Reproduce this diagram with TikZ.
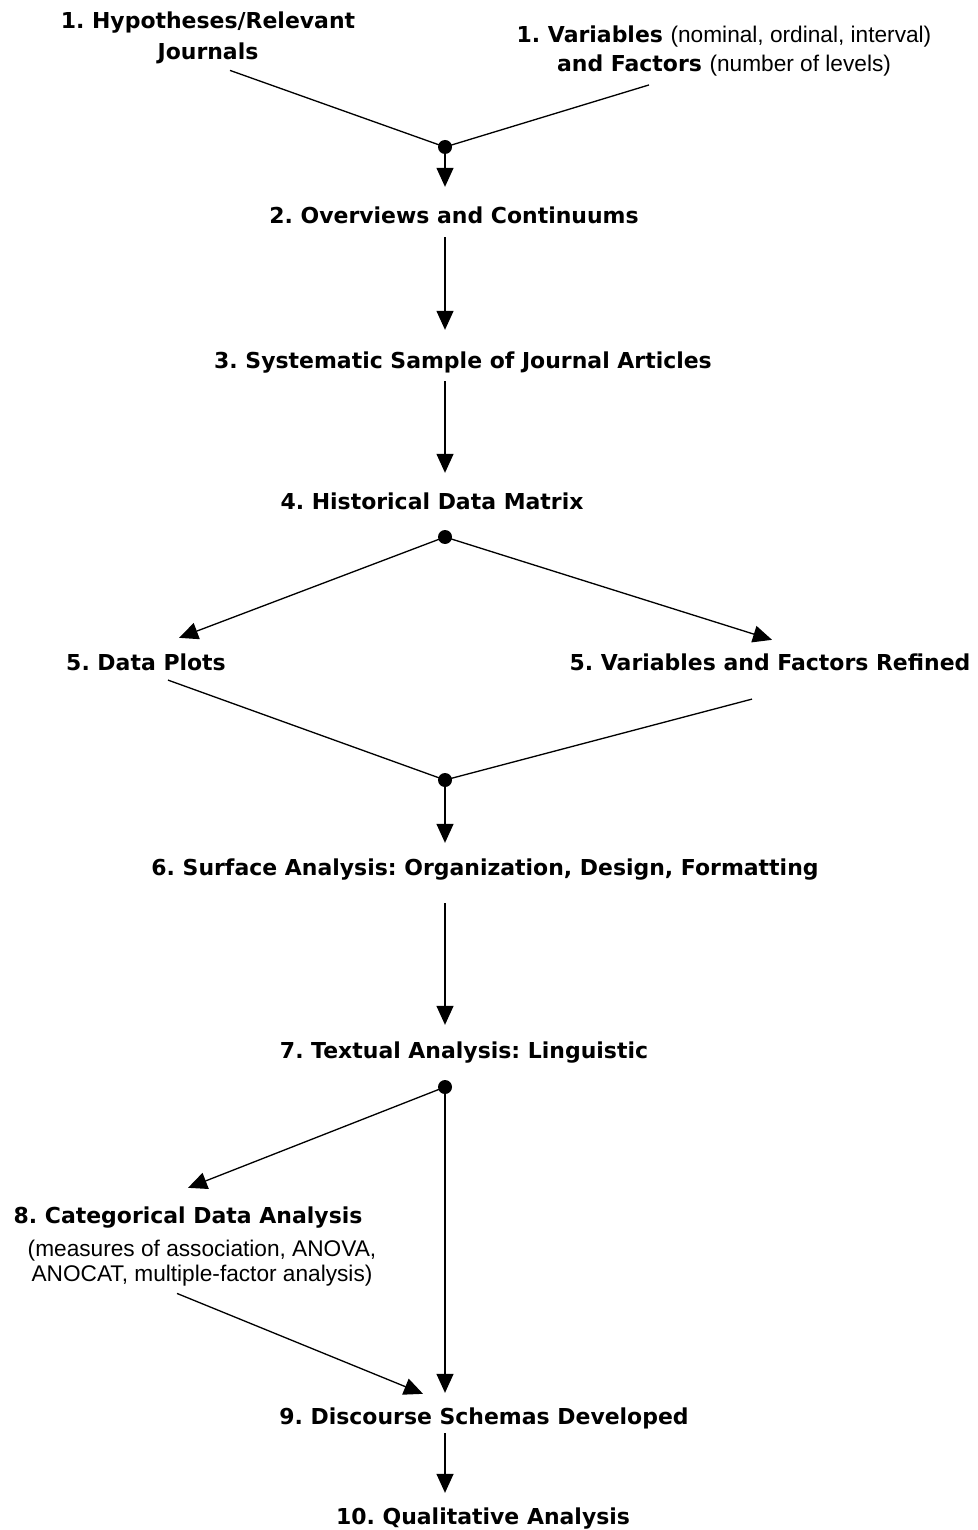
\documentclass[tikz,border=0pt]{standalone}
\usepackage{fontspec}
\setmainfont{Liberation Sans}
\newfontfamily\stagefont{DejaVu Sans}
\usepackage{tikz}
\usetikzlibrary{arrows.meta, positioning, calc}
\frenchspacing

\newcommand{\lightnote}[1]{{\normalfont\fontsize{12.9}{14}\selectfont #1}}

\begin{document}
\begin{tikzpicture}[x=0.02cm, y=-0.02cm,
  stage/.style={font=\stagefont\bfseries\fontsize{12.5}{14}\selectfont, inner sep=0pt, anchor=base, text height=9pt, text depth=2.7pt},
  stagebox/.style={font=\stagefont\bfseries\fontsize{12.5}{14}\selectfont, inner sep=0pt, anchor=north, align=center},
  junction/.style={circle, fill=black, inner sep=0pt, minimum size=0.28cm},
  link/.style={line width=0.75pt},
  tip/.style={-{Triangle[length=0.38cm, width=0.34cm]}},
  flow/.style={link, tip, shorten <=0.16cm, shorten >=0.36cm}]
  \useasboundingbox (0,0) rectangle (977,1530);

  % Starting points
  \node[stagebox] (hyp) at (208,11) {1. Hypotheses/Relevant\\[4pt]Journals};
  \node[stagebox] (var) at (724,25) {1. Variables \lightnote{(nominal, ordinal, interval)}\\[3pt]and Factors \lightnote{(number of levels)}};
  \node[junction] (j1) at (445,147) {};

  % Main sequence
  \node[stage] (ov) at (454,224) {2. Overviews and Continuums};
  \node[stage] (sys) at (463,369) {3. Systematic Sample of Journal Articles};
  \node[stage] (hist) at (432,509) {4. Historical Data Matrix};
  \node[junction] (j4) at (445,537) {};

  % Branch after the matrix
  \node[stage] (plots) at (146,670) {5. Data Plots};
  \node[stage] (refined) at (770,670) {5. Variables and Factors Refined};
  \node[junction] (j5) at (445,780) {};

  \node[stage] (surf) at (485,875) {6. Surface Analysis: Organization, Design, Formatting};
  \node[stage] (txt) at (464,1058) {7. Textual Analysis: Linguistic};
  \node[junction] (j7) at (445,1087) {};

  \node[stage] (cat) at (188,1223) {8. Categorical Data Analysis};
  \node[stagebox, font=\normalfont\fontsize{12.9}{14}\selectfont] (catnote) at (202,1240) {(measures of association, ANOVA,\\ANOCAT, multiple-factor analysis)};
  \node[stage] (disc) at (484,1424) {9. Discourse Schemas Developed};
  \node[stage] (qual) at (483,1524) {10. Qualitative Analysis};

  % Connectors
  \draw[link] ($(hyp.south)+(22,6)$) -- (j1.center);
  \draw[link] ($(var.south)+(-75,8)$) -- (j1.center);
  \draw[flow, shorten <=0pt, shorten >=0.42cm] (j1.center) -- (ov.north -| j1);
  \draw[flow, shorten >=0.46cm] (ov.south -| j1) -- (sys.north -| j1);
  \draw[flow, shorten <=0.14cm, shorten >=0.40cm] (sys.south -| j1) -- (hist.north -| j1);

  \draw[link, tip] (j4.center) -- ($(plots.north)+(33,-16)$);
  \draw[link, tip] (j4.center) -- ($(refined.north)+(2,-14)$);
  \draw[link] ($(plots.south)+(22,5)$) -- (j5.center);
  \draw[link] ($(refined.south)+(-18,24)$) -- (j5.center);
  \draw[flow, shorten <=0pt, shorten >=0.32cm] (j5.center) -- (surf.north -| j5);
  \draw[flow, shorten <=0.46cm, shorten >=0.34cm] (surf.south -| j5) -- (txt.north -| j5);

  \draw[link, tip] (j7.center) -- ($(cat.north)+(0,-19)$);
  \draw[flow, shorten <=0pt, shorten >=0.30cm] (j7.center) -- (disc.north -| j7);
  \draw[link, tip] ($(catnote.south)+(-25,7)$) -- ($(disc.north)+(-61,-14)$);
  \draw[flow, shorten <=0.08cm, shorten >=0.30cm] (disc.south -| j7) -- (qual.north -| j7);
\end{tikzpicture}
\end{document}
